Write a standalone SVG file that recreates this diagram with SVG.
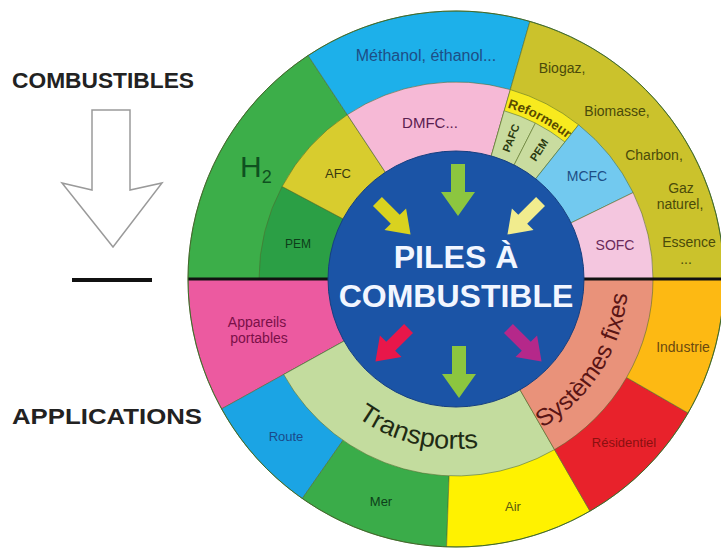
<svg xmlns="http://www.w3.org/2000/svg" width="721" height="548" viewBox="0 0 721 548">
<style>
text{font-family:"Liberation Sans",Arial,sans-serif}
.seg{stroke:#4f6a2c;stroke-width:0.8;stroke-opacity:0.7}
.lbl{font-size:14px;text-anchor:middle}
.sm{font-size:13px;text-anchor:middle}
.big{font-size:32px;font-weight:bold;fill:#f2f6ff;text-anchor:middle}
.side{font-size:22px;font-weight:bold;fill:#222}
</style>
<defs>
<path id="arr" d="M-7,-26 L7,-26 L7,2 L17,2 L0,26 L-17,2 L-7,2 Z"/>
<path id="pTrans" d="M318.5,378.9 A170,170 0 0 0 530.5,431.8"/>
<path id="pSys" d="M500.5,445.1 A172,172 0 0 0 625.4,249.1"/>
<path id="pRef" d="M487.1,102.7 A179,179 0 0 1 582.6,152.4"/>
</defs>
<rect width="721" height="548" fill="#ffffff"/>

<g id="legend">
<text class="side" x="12" y="88" textLength="182" lengthAdjust="spacingAndGlyphs">COMBUSTIBLES</text>
<polygon points="92,110 130,110 130,190 162,183 113,247 62,183 92,190" fill="#ffffff" stroke="#9a9a9a" stroke-width="1.5"/>
<line x1="72" y1="280" x2="152" y2="280" stroke="#111" stroke-width="4"/>
<text class="side" x="12" y="424" textLength="190" lengthAdjust="spacingAndGlyphs">APPLICATIONS</text>
</g>

<g id="outer-ring">
<g id="h2"><path class="seg" fill="#3cae49" d="M456,279 L308.1,55.5 A268,268 0 0 0 188,279 Z"/></g>
<g id="methanol"><path class="seg" fill="#1db0ea" d="M456,279 L529.9,21.4 A268,268 0 0 0 308.1,55.5 Z"/></g>
<g id="biogaz"><path class="seg" fill="#cbc22c" d="M456,279 L724,279 A268,268 0 0 0 529.9,21.4 Z"/></g>
<g id="appareils"><path class="seg" fill="#ec5aa0" d="M456,279 L188,279 A268,268 0 0 0 221.6,408.9 Z"/></g>
<g id="route"><path class="seg" fill="#1ba4e4" d="M456,279 L221.6,408.9 A268,268 0 0 0 302.3,498.5 Z"/></g>
<g id="mer"><path class="seg" fill="#3aac49" d="M456,279 L302.3,498.5 A268,268 0 0 0 446.6,546.8 Z"/></g>
<g id="air"><path class="seg" fill="#fff200" d="M456,279 L446.6,546.8 A268,268 0 0 0 590,511.1 Z"/></g>
<g id="residentiel"><path class="seg" fill="#e8222b" d="M456,279 L590,511.1 A268,268 0 0 0 688.1,413 Z"/></g>
<g id="industrie"><path class="seg" fill="#fdb913" d="M456,279 L688.1,413 A268,268 0 0 0 724,279 Z"/></g>
</g>

<g id="middle-ring">
<g id="pem-l"><path class="seg" fill="#2b9f45" d="M456,279 L282.1,186.5 A197,197 0 0 0 259,279 Z"/></g>
<g id="afc"><path class="seg" fill="#d8cc2e" d="M456,279 L347.3,114.7 A197,197 0 0 0 282.1,186.5 Z"/></g>
<g id="dmfc"><path class="seg" fill="#f6b9d6" d="M456,279 L510.3,89.6 A197,197 0 0 0 347.3,114.7 Z"/></g>
<g id="reformeur"><path class="seg" fill="#f8ea1e" d="M456,279 L578.6,124.8 A197,197 0 0 0 510.3,89.6 Z"/></g>
<g id="pafc"><path class="seg" fill="#c9dc9f" d="M456,279 L535.4,123.1 A175,175 0 0 0 504.2,110.8 Z"/></g>
<g id="pem-r"><path class="seg" fill="#c9dc9f" d="M456,279 L564.9,142 A175,175 0 0 0 535.4,123.1 Z"/></g>
<g id="mcfc"><path class="seg" fill="#72c9ef" d="M456,279 L633.1,192.6 A197,197 0 0 0 578.6,124.8 Z"/></g>
<g id="sofc"><path class="seg" fill="#f4c6df" d="M456,279 L653,279 A197,197 0 0 0 633.1,192.6 Z"/></g>
<g id="transports"><path class="seg" fill="#c3dc9e" d="M456,279 L283.7,374.5 A197,197 0 0 0 554.5,449.6 Z"/></g>
<g id="systemes"><path class="seg" fill="#e9927a" d="M456,279 L554.5,449.6 A197,197 0 0 0 653,279 Z"/></g>
</g>

<line x1="188" y1="279" x2="722" y2="279" stroke="#111" stroke-width="3"/>
<circle cx="456" cy="279" r="268" fill="none" stroke="#3f6a2a" stroke-width="1"/>

<g id="center">
<circle cx="456" cy="279" r="128" fill="#1b54a6" stroke="#163f80" stroke-width="1"/>
<text class="big" x="456" y="268">PILES À</text>
<text class="big" x="456" y="307">COMBUSTIBLE</text>
</g>

<g id="connectors">
<use href="#arr" transform="translate(458,190)" fill="#8cc63f"/>
<use href="#arr" transform="translate(394,218) rotate(-45) scale(0.9)" fill="#d9d21f"/>
<use href="#arr" transform="translate(524,218) rotate(45) scale(0.9)" fill="#f1ec8e"/>
<use href="#arr" transform="translate(392,345) rotate(45) scale(0.9)" fill="#e8174a"/>
<use href="#arr" transform="translate(525,345) rotate(-45) scale(0.9)" fill="#b5288a"/>
<use href="#arr" transform="translate(459,372)" fill="#8cc63f"/>
</g>

<g id="labels">
<text class="lbl" x="426" y="61" fill="#1d4e86" style="font-size:16px">Méthanol, éthanol...</text>
<text x="240" y="177" fill="#0f5020" style="font-size:30px">H<tspan dy="6" style="font-size:18px">2</tspan></text>
<text class="sm" x="338" y="178" fill="#3a3a10">AFC</text>
<text class="sm" x="298" y="248" fill="#0d3d1a" style="font-size:12px">PEM</text>
<text class="lbl" x="430" y="128" fill="#5a2050" style="font-size:15px">DMFC...</text>
<text style="font-size:13px;font-weight:bold" fill="#5a4a00"><textPath href="#pRef" startOffset="50%" text-anchor="middle" textLength="68" lengthAdjust="spacingAndGlyphs">Reformeur</textPath></text>
<text transform="translate(511,138) rotate(-68.5)" text-anchor="middle" dy="0.35em" style="font-size:11px;font-weight:bold" fill="#2a3a10">PAFC</text>
<text transform="translate(539,150) rotate(-57)" text-anchor="middle" dy="0.35em" style="font-size:11px;font-weight:bold" fill="#2a3a10">PEM</text>
<text class="sm" x="587" y="181" fill="#1d4e86" style="font-size:14px">MCFC</text>
<text class="sm" x="615" y="250" fill="#6a2a5a" style="font-size:14px">SOFC</text>
<text class="lbl" x="562" y="73" fill="#4a4a0a">Biogaz,</text>
<text class="lbl" x="617" y="116" fill="#4a4a0a">Biomasse,</text>
<text class="lbl" x="654" y="160" fill="#4a4a0a">Charbon,</text>
<text class="lbl" x="681" y="193" fill="#4a4a0a">Gaz</text>
<text class="lbl" x="680" y="209" fill="#4a4a0a">naturel,</text>
<text class="lbl" x="689" y="247" fill="#4a4a0a">Essence</text>
<text class="lbl" x="686" y="264" fill="#4a4a0a">...</text>
<text class="lbl" x="257" y="327" fill="#7a1048">Appareils</text>
<text class="lbl" x="259" y="343" fill="#7a1048">portables</text>
<text class="sm" x="286" y="441" fill="#1a4a8a">Route</text>
<text class="sm" x="381" y="506" fill="#0d4019">Mer</text>
<text class="sm" x="513" y="511" fill="#5a5a10">Air</text>
<text class="sm" x="624" y="447" fill="#8a1010">Résidentiel</text>
<text class="lbl" x="683" y="352" fill="#6a4a10">Industrie</text>
<text style="font-size:26px" fill="#1f2b14"><textPath href="#pTrans" startOffset="50%" text-anchor="middle" textLength="128" lengthAdjust="spacingAndGlyphs">Transports</textPath></text>
<text style="font-size:24px" fill="#5a1515"><textPath href="#pSys" startOffset="45" textLength="108" lengthAdjust="spacingAndGlyphs">Systèmes</textPath></text>
<text style="font-size:24px" fill="#5a1515"><textPath href="#pSys" startOffset="160" textLength="50" lengthAdjust="spacingAndGlyphs">fixes</textPath></text>
</g>
</svg>
